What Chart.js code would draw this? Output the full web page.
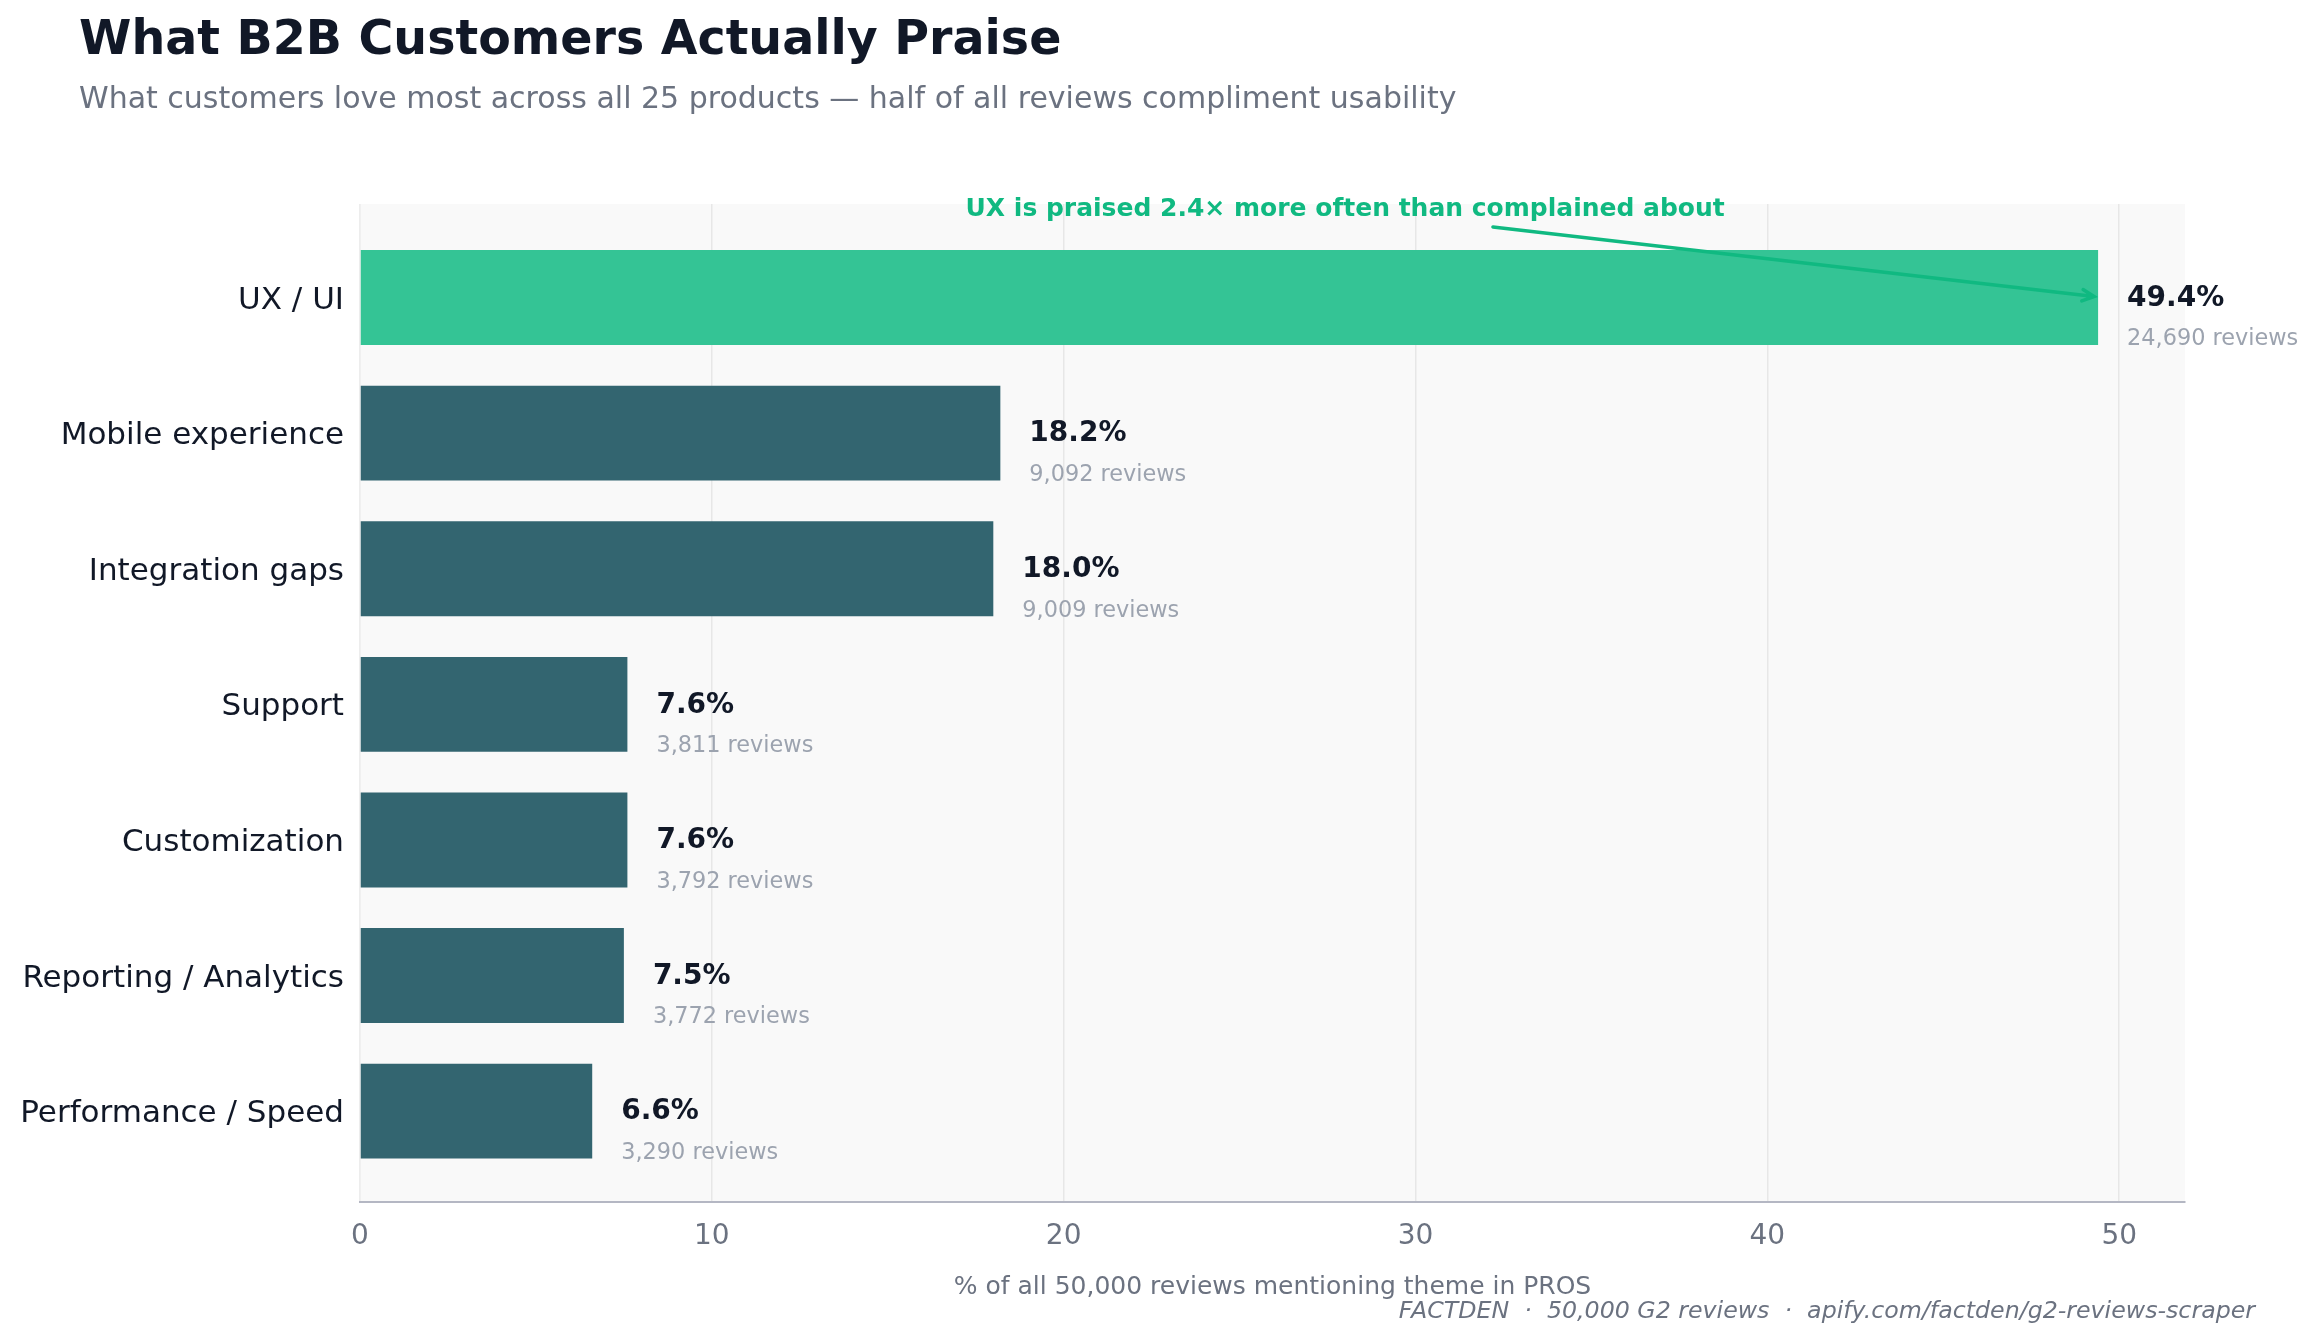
<!DOCTYPE html>
<html>
<head>
<meta charset="utf-8">
<script src="https://cdn.jsdelivr.net/npm/chart.js@4.4.1/dist/chart.umd.min.js"></script>
<style>
  html, body { margin: 0; padding: 0; background: #ffffff; }
  #wrap { width: 2316px; height: 1342px; }
</style>
</head>
<body>
<div id="wrap"><canvas id="praiseChart" width="2316" height="1342"></canvas></div>
<script>
// values
const categories = ['UX / UI', 'Mobile experience', 'Integration gaps', 'Support', 'Customization', 'Reporting / Analytics', 'Performance / Speed'];
const sharePct = [49.4, 18.2, 18.0, 7.6, 7.6, 7.5, 6.6];
const reviewCounts = [24690, 9092, 9009, 3811, 3792, 3772, 3290];
const xTicks = [0, 10, 20, 30, 40, 50];
const barColors = ['#34c495', '#336570', '#336570', '#336570', '#336570', '#336570', '#336570'];

const FONT = '"DejaVu Sans", sans-serif';
const GREEN = '#10b981';

// plot background + title/subtitle/footer
const frame = {
  id: 'frame',
  beforeDraw(chart) {
    const { ctx, chartArea: a } = chart;
    ctx.save();
    ctx.fillStyle = '#f9f9f9';
    ctx.fillRect(a.left, a.top, a.right - a.left, a.bottom - a.top);

    ctx.textBaseline = 'middle';
    ctx.textAlign = 'left';
    ctx.fillStyle = '#111827';
    ctx.font = 'bold 47.5px ' + FONT;
    ctx.fillText('What B2B Customers Actually Praise', 79, 42);
    ctx.fillStyle = '#6b7280';
    ctx.font = '30px ' + FONT;
    ctx.fillText('What customers love most across all 25 products \u2014 half of all reviews compliment usability', 79, 100);

    ctx.textAlign = 'right';
    ctx.font = 'italic 23.7px ' + FONT;
    ctx.fillText('FACTDEN  \u00b7  50,000 G2 reviews  \u00b7  apify.com/factden/g2-reviews-scraper', 2255, 1312);
    ctx.restore();
  }
};

// value + review count labels and the annotation arrow
const labels = {
  id: 'labels',
  afterDraw(chart) {
    const { ctx, chartArea: a } = chart;
    const xs = chart.scales.x;
    const bars = chart.getDatasetMeta(0).data;
    ctx.save();
    ctx.textAlign = 'left';
    ctx.textBaseline = 'middle';
    bars.forEach((bar, i) => {
      const x = bar.x + 29;
      ctx.fillStyle = '#111827';
      ctx.font = 'bold 28px ' + FONT;
      ctx.fillText(sharePct[i].toFixed(1) + '%', x, bar.y + 1);
      ctx.fillStyle = '#9ca3af';
      ctx.font = '22.4px ' + FONT;
      ctx.fillText(reviewCounts[i].toLocaleString('en-US') + ' reviews', x, bar.y + 42);
    });

    // annotation
    ctx.fillStyle = GREEN;
    ctx.textAlign = 'center';
    ctx.font = 'bold 25px ' + FONT;
    ctx.fillText('UX is praised 2.4\u00d7 more often than complained about', xs.getPixelForValue(28.0), a.top + 5);

    const sx = xs.getPixelForValue(32.2), sy = a.top + 23;
    const ex = bars[0].x - 4, ey = bars[0].y - 1;
    ctx.strokeStyle = GREEN;
    ctx.lineWidth = 3.5;
    ctx.lineCap = 'round';
    ctx.beginPath();
    ctx.moveTo(sx, sy);
    ctx.lineTo(ex, ey);
    const ang = Math.atan2(ey - sy, ex - sx);
    const len = 13;
    ctx.moveTo(ex - len * Math.cos(ang - 0.45), ey - len * Math.sin(ang - 0.45));
    ctx.lineTo(ex, ey);
    ctx.lineTo(ex - len * Math.cos(ang + 0.45), ey - len * Math.sin(ang + 0.45));
    ctx.stroke();
    ctx.restore();
  }
};

new Chart(document.getElementById('praiseChart'), {
  type: 'bar',
  data: {
    datasets: [{
      data: categories.map((c, i) => ({ x: sharePct[i], y: i })),
      backgroundColor: barColors,
      borderWidth: 0,
      barPercentage: 0.7,
      categoryPercentage: 1.0
    }]
  },
  options: {
    indexAxis: 'y',
    responsive: false,
    animation: false,
    layout: { padding: { top: 204, right: 131, left: 0, bottom: 0 } },
    plugins: { legend: { display: false }, tooltip: { enabled: false } },
    scales: {
      y: {
        type: 'linear',
        reverse: true,
        offset: false,
        min: -0.69,
        max: 6.67,
        afterBuildTicks: s => { s.ticks = categories.map((c, i) => ({ value: i })); },
        afterFit: s => { s.width = 360; },
        grid: { display: false, drawTicks: false, offset: false },
        border: { display: false },
        ticks: {
          callback: v => categories[v],
          font: { family: FONT, size: 31 },
          color: '#111827',
          padding: 16,
          labelOffset: 3
        }
      },
      x: {
        type: 'linear',
        min: 0,
        max: 51.87,
        z: 1,
        afterBuildTicks: s => { s.ticks = xTicks.map(v => ({ value: v })); },
        afterFit: s => { s.height = 140; },
        grid: { color: 'rgba(0,0,0,0.07)', lineWidth: 1.5, drawTicks: false },
        border: { color: '#b4b7c3', width: 2 },
        ticks: {
          font: { family: FONT, size: 28 },
          color: '#6b7280',
          padding: 18
        },
        title: {
          display: true,
          text: '% of all 50,000 reviews mentioning theme in PROS',
          font: { family: FONT, size: 25 },
          color: '#6b7280',
          padding: { top: 0, bottom: 40 }
        }
      }
    }
  },
  plugins: [frame, labels]
});
</script>
</body>
</html>
